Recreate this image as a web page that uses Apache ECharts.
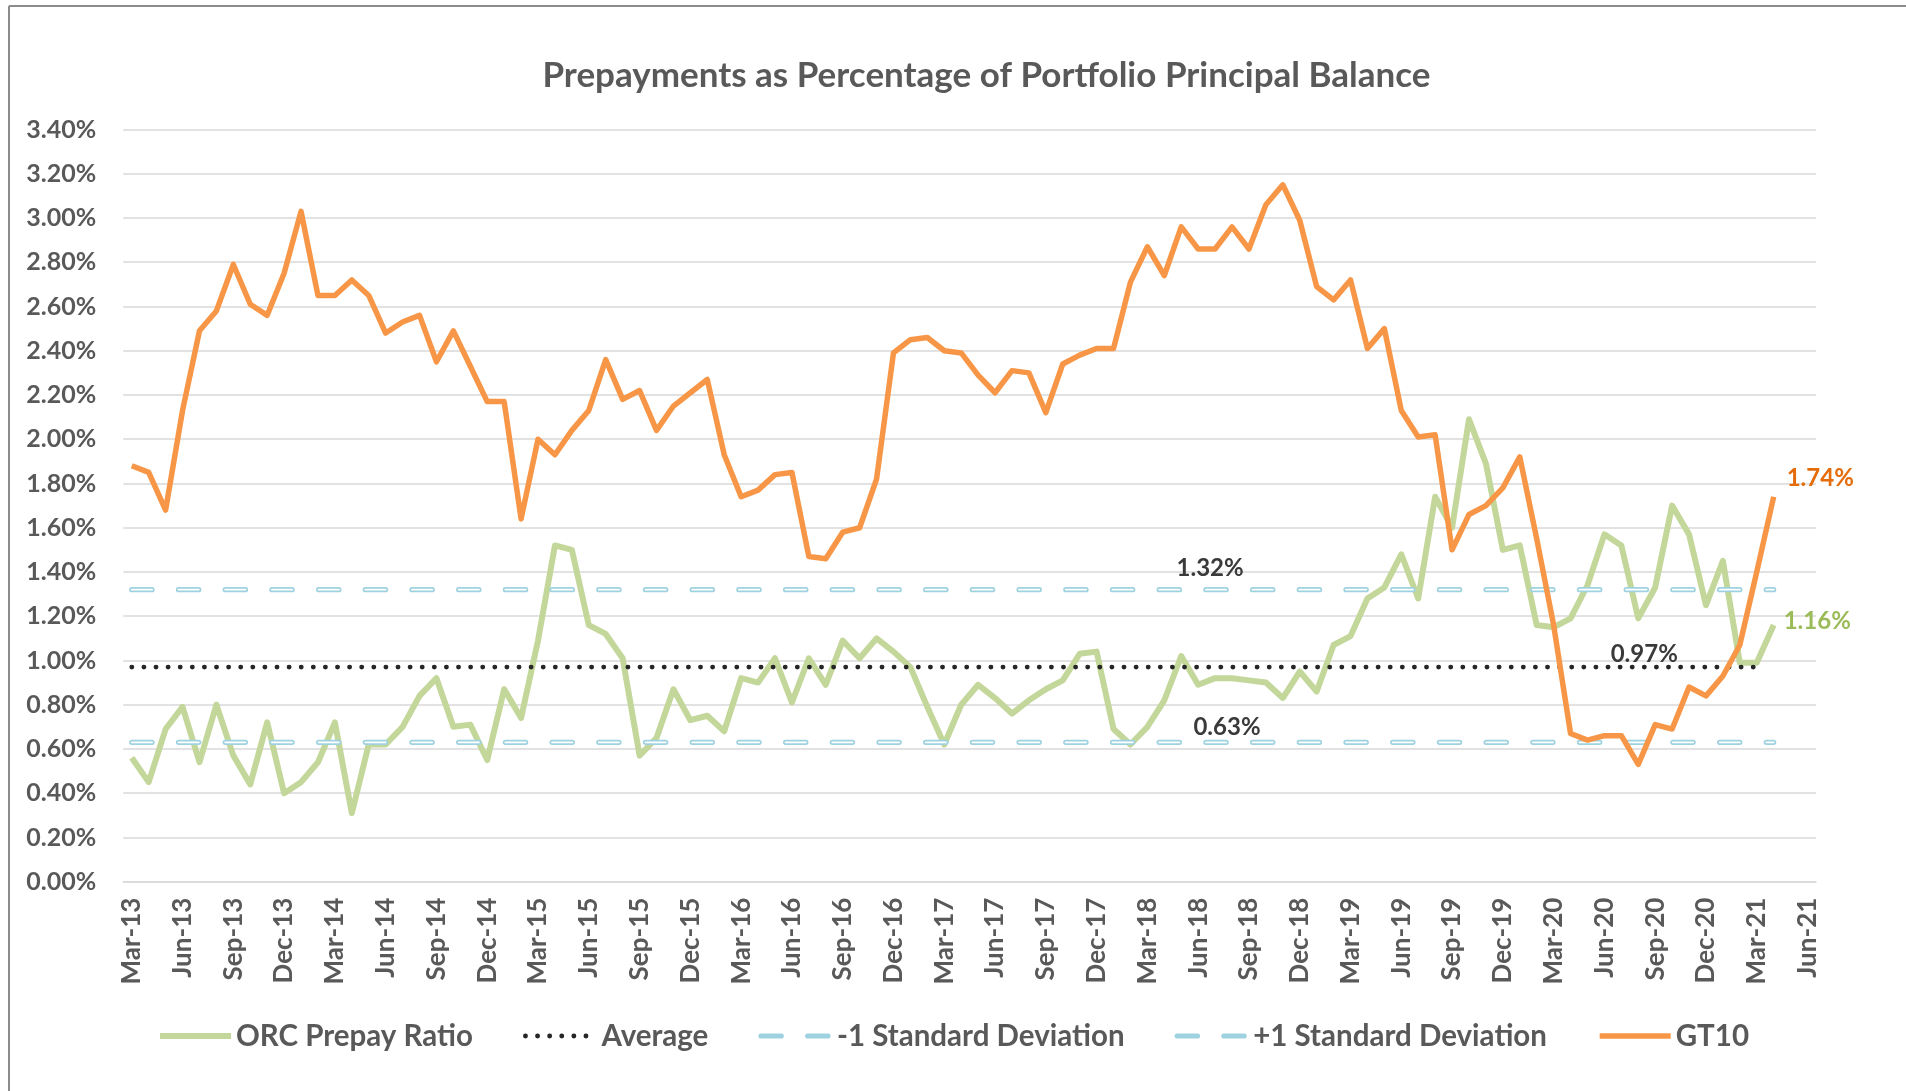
<!DOCTYPE html>
<html>
<head>
<meta charset="utf-8">
<script src="https://cdn.jsdelivr.net/npm/echarts@6/dist/echarts.min.js"></script>
<style>
	html, body { margin: 0; padding: 0; background: #fff; }
	#chart { width: 1906px; height: 1091px; }
</style>
</head>
<body>
<div id="chart"></div>
<script>
// month slots on the axis (Mar-13 .. Jun-21)
var months = [
	'Mar-13','Apr-13','May-13','Jun-13','Jul-13','Aug-13','Sep-13','Oct-13','Nov-13','Dec-13',
	'Jan-14','Feb-14','Mar-14','Apr-14','May-14','Jun-14','Jul-14','Aug-14','Sep-14','Oct-14','Nov-14','Dec-14',
	'Jan-15','Feb-15','Mar-15','Apr-15','May-15','Jun-15','Jul-15','Aug-15','Sep-15','Oct-15','Nov-15','Dec-15',
	'Jan-16','Feb-16','Mar-16','Apr-16','May-16','Jun-16','Jul-16','Aug-16','Sep-16','Oct-16','Nov-16','Dec-16',
	'Jan-17','Feb-17','Mar-17','Apr-17','May-17','Jun-17','Jul-17','Aug-17','Sep-17','Oct-17','Nov-17','Dec-17',
	'Jan-18','Feb-18','Mar-18','Apr-18','May-18','Jun-18','Jul-18','Aug-18','Sep-18','Oct-18','Nov-18','Dec-18',
	'Jan-19','Feb-19','Mar-19','Apr-19','May-19','Jun-19','Jul-19','Aug-19','Sep-19','Oct-19','Nov-19','Dec-19',
	'Jan-20','Feb-20','Mar-20','Apr-20','May-20','Jun-20','Jul-20','Aug-20','Sep-20','Oct-20','Nov-20','Dec-20',
	'Jan-21','Feb-21','Mar-21','Apr-21','May-21','Jun-21'
];

// ORC Prepay Ratio, % (Mar-13 .. Apr-21)
var orcRatio = [
	0.56, 0.45, 0.69, 0.79, 0.54, 0.80, 0.57, 0.44, 0.72, 0.40,
	0.45, 0.54, 0.72, 0.31, 0.62, 0.62, 0.70, 0.84, 0.92, 0.70, 0.71, 0.55,
	0.87, 0.74, 1.09, 1.52, 1.50, 1.16, 1.12, 1.01, 0.57, 0.65, 0.87, 0.73,
	0.75, 0.68, 0.92, 0.90, 1.01, 0.81, 1.01, 0.89, 1.09, 1.01, 1.10, 1.04,
	0.97, 0.79, 0.62, 0.80, 0.89, 0.83, 0.76, 0.82, 0.87, 0.91, 1.03, 1.04,
	0.69, 0.62, 0.70, 0.82, 1.02, 0.89, 0.92, 0.92, 0.91, 0.90, 0.83, 0.95,
	0.86, 1.07, 1.11, 1.28, 1.33, 1.48, 1.28, 1.74, 1.60, 2.09, 1.89, 1.50,
	1.52, 1.16, 1.15, 1.19, 1.34, 1.57, 1.52, 1.19, 1.33, 1.70, 1.57, 1.25,
	1.45, 0.99, 0.99, 1.16
];

// GT10, % (Mar-13 .. Apr-21)
var gt10 = [
	1.88, 1.85, 1.68, 2.13, 2.49, 2.58, 2.79, 2.61, 2.56, 2.75,
	3.03, 2.65, 2.65, 2.72, 2.65, 2.48, 2.53, 2.56, 2.35, 2.49, 2.33, 2.17,
	2.17, 1.64, 2.00, 1.93, 2.04, 2.13, 2.36, 2.18, 2.22, 2.04, 2.15, 2.21,
	2.27, 1.93, 1.74, 1.77, 1.84, 1.85, 1.47, 1.46, 1.58, 1.60, 1.82, 2.39,
	2.45, 2.46, 2.40, 2.39, 2.29, 2.21, 2.31, 2.30, 2.12, 2.34, 2.38, 2.41,
	2.41, 2.71, 2.87, 2.74, 2.96, 2.86, 2.86, 2.96, 2.86, 3.06, 3.15, 2.99,
	2.69, 2.63, 2.72, 2.41, 2.50, 2.13, 2.01, 2.02, 1.50, 1.66, 1.70, 1.78,
	1.92, 1.55, 1.16, 0.67, 0.64, 0.66, 0.66, 0.53, 0.71, 0.69, 0.88, 0.84,
	0.93, 1.07, 1.40, 1.74
];

// reference levels, %
var avgLevel = 0.97;
var minusSdLevel = 0.63;
var plusSdLevel = 1.32;
var avgPoints = 97;   // dotted average stops at Mar-21
var sdPoints = 98;    // std dev lines run to Apr-21

// where the level labels sit
var avgLabelAt = 89;
var minusSdLabelAt = 65;
var plusSdLabelAt = 64;

var legendNames = ['ORC Prepay Ratio', 'Average', '-1 Standard Deviation', '+1 Standard Deviation', 'GT10'];

var FONT = 'Lato, "Open Sans", sans-serif';
var GREY = '#595959';

function flat(level, n) {
	var out = [];
	for (var i = 0; i < n; i++) out.push(level);
	return out;
}

function pct(v) { return v.toFixed(2) + '%'; }

// a single text mark pinned to one data point
function pinLabel(idx, value, label) {
	return {
		symbol: 'none',
		silent: true,
		data: [{
			coord: [months[idx], value],
			symbol: 'circle',
			symbolSize: 0,
			value: value,
			label: Object.assign({
				show: true,
				fontFamily: FONT,
				fontWeight: 'bold',
				fontSize: 24,
				formatter: function(p) { return pct(p.value); }
			}, label)
		}]
	};
}

var sdDash = [20.3, 26.4];

var chart = echarts.init(document.getElementById('chart'), null, { renderer: 'canvas' });
chart.setOption({
	animation: false,
	backgroundColor: '#fff',
	textStyle: { fontFamily: FONT },
	title: {
		text: 'Prepayments as Percentage of Portfolio Principal Balance',
		left: 981.5,
		textAlign: 'center',
		top: 53,
		textStyle: { color: GREY, fontSize: 35, fontWeight: 'bold', fontFamily: FONT }
	},
	grid: { left: 123.3, right: 90, top: 129.5, bottom: 209.3 },
	legend: {
		data: legendNames,
		left: 'center',
		top: 1016,
		itemWidth: 71,
		itemHeight: 14,
		itemGap: 50,
		itemStyle: { opacity: 0 },
		lineStyle: { width: 'inherit' },
		textStyle: { color: GREY, fontSize: 29.5, fontWeight: 'bold', fontFamily: FONT }
	},
	xAxis: {
		type: 'category',
		data: months,
		boundaryGap: true,
		axisLine: { lineStyle: { color: '#d9d9d9', width: 1.5 } },
		axisTick: { interval: 2, length: 7, lineStyle: { color: '#d9d9d9', width: 1.5 } },
		axisLabel: {
			interval: 2,
			rotate: 90,
			margin: 16,
			color: GREY,
			fontSize: 26,
			fontWeight: 'bold',
			fontFamily: FONT
		},
		splitLine: { show: false }
	},
	yAxis: {
		type: 'value',
		min: 0,
		max: 3.4,
		interval: 0.2,
		axisLine: { show: false },
		axisTick: { show: false },
		axisLabel: {
			margin: 27,
			color: GREY,
			fontSize: 25,
			fontWeight: 'bold',
			fontFamily: FONT,
			formatter: pct
		},
		splitLine: { lineStyle: { color: '#d9d9d9', width: 1.5 } }
	},
	graphic: [
		{ type: 'line', shape: { x1: 9, y1: 6, x2: 1906, y2: 6 }, style: { stroke: '#8c8c8c', lineWidth: 2 } },
		{ type: 'line', shape: { x1: 9, y1: 6, x2: 9, y2: 1091 }, style: { stroke: '#8c8c8c', lineWidth: 2 } }
	],
	series: [
		{
			name: 'ORC Prepay Ratio',
			type: 'line',
			symbol: 'none',
			color: '#c4d79b',
			lineStyle: { width: 6, join: 'round' },
			data: orcRatio,
			markPoint: pinLabel(orcRatio.length - 1, orcRatio[orcRatio.length - 1], {
				position: 'right', distance: 10, offset: [0, -4], color: '#9bbb59'
			})
		},
		{
			name: 'Average',
			type: 'line',
			symbol: 'none',
			color: '#262626',
			lineStyle: { width: 4.8, type: [0.1, 12], cap: 'round' },
			data: flat(avgLevel, avgPoints),
			markPoint: pinLabel(avgLabelAt, avgLevel, {
				position: 'top', distance: 1, offset: [6, 0], color: '#3a3a3a'
			})
		},
		{
			name: '-1 Standard Deviation',
			type: 'line',
			symbol: 'none',
			color: '#9fd2e0',
			lineStyle: { width: 5.2, type: sdDash, cap: 'round' },
			data: flat(minusSdLevel, sdPoints),
			markPoint: pinLabel(minusSdLabelAt, minusSdLevel, {
				position: 'top', distance: 3, offset: [-5, 0], color: '#3a3a3a'
			})
		},
		{
			name: 'sd-minus-core',
			type: 'line',
			symbol: 'none',
			color: '#ffffff',
			silent: true,
			lineStyle: { width: 1.8, type: sdDash, cap: 'round' },
			data: flat(minusSdLevel, sdPoints)
		},
		{
			name: '+1 Standard Deviation',
			type: 'line',
			symbol: 'none',
			color: '#9fd2e0',
			lineStyle: { width: 5.2, type: sdDash, cap: 'round' },
			data: flat(plusSdLevel, sdPoints),
			markPoint: pinLabel(plusSdLabelAt, plusSdLevel, {
				position: 'top', distance: 9, offset: [-5, 0], color: '#3a3a3a'
			})
		},
		{
			name: 'sd-plus-core',
			type: 'line',
			symbol: 'none',
			color: '#ffffff',
			silent: true,
			lineStyle: { width: 1.8, type: sdDash, cap: 'round' },
			data: flat(plusSdLevel, sdPoints)
		},
		{
			name: 'GT10',
			type: 'line',
			symbol: 'none',
			color: '#f79646',
			lineStyle: { width: 5.5, join: 'round' },
			data: gt10,
			markPoint: pinLabel(gt10.length - 1, gt10[gt10.length - 1], {
				position: 'right', distance: 13, offset: [0, -18], color: '#e46c0a'
			})
		}
	]
});
</script>
</body>
</html>
